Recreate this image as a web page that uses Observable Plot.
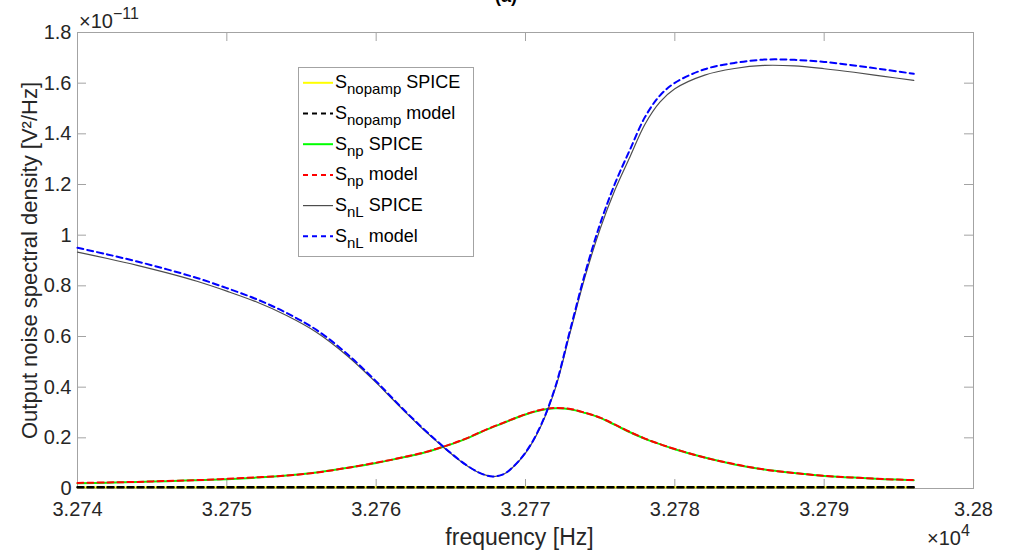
<!DOCTYPE html>
<html><head><meta charset="utf-8">
<script src="https://cdn.jsdelivr.net/npm/d3@7"></script>
<script src="https://cdn.jsdelivr.net/npm/@observablehq/plot@0.6"></script>
<style>
html,body{margin:0;padding:0;background:#fff;overflow:hidden;}
#wrap{position:relative;width:1010px;height:555px;font-family:"Liberation Sans",Arial,sans-serif;}
#wrap svg.overlay{position:absolute;left:0;top:0;pointer-events:none;}
</style></head><body><div id="wrap"></div>
<script>
// ---- data (frequency in Hz, spectral densities in units of 1e-11 V^2/Hz) ----
const freq = [32740,32742,32744,32746,32748,32750,32752,32754,32756,32758,32760,32761,32762,32763,32764,32765,32766,32767,32767.8,32768.5,32769,32770,32771,32772,32773,32774,32775,32776,32777,32778,32779,32780,32782,32784,32786,32788,32790,32792,32794,32796];
const nopampSpice = [0.005,0.005,0.005,0.005,0.005,0.005,0.005,0.005,0.005,0.005,0.005,0.005,0.005,0.005,0.005,0.005,0.005,0.005,0.005,0.005,0.005,0.005,0.005,0.005,0.005,0.005,0.005,0.005,0.005,0.005,0.005,0.005,0.005,0.005,0.005,0.005,0.005,0.005,0.005,0.005];
const nopampModel = [0.005,0.005,0.005,0.005,0.005,0.005,0.005,0.005,0.005,0.005,0.005,0.005,0.005,0.005,0.005,0.005,0.005,0.005,0.005,0.005,0.005,0.005,0.005,0.005,0.005,0.005,0.005,0.005,0.005,0.005,0.005,0.005,0.005,0.005,0.005,0.005,0.005,0.005,0.005,0.005];
const npSpice = [0.021,0.023,0.026,0.029,0.033,0.037,0.043,0.051,0.063,0.081,0.101,0.113,0.125,0.138,0.155,0.174,0.196,0.222,0.242,0.258,0.270,0.292,0.309,0.317,0.313,0.298,0.279,0.251,0.222,0.196,0.175,0.155,0.122,0.095,0.075,0.061,0.049,0.043,0.037,0.033];
const npModel = [0.022,0.024,0.026,0.030,0.033,0.038,0.044,0.051,0.063,0.081,0.102,0.113,0.126,0.139,0.156,0.175,0.197,0.223,0.243,0.259,0.271,0.293,0.310,0.318,0.314,0.299,0.280,0.252,0.223,0.197,0.175,0.156,0.122,0.096,0.075,0.061,0.050,0.043,0.037,0.033];
const nLSpice = [0.933,0.908,0.881,0.851,0.818,0.779,0.736,0.683,0.617,0.527,0.418,0.358,0.299,0.242,0.189,0.138,0.093,0.060,0.047,0.055,0.075,0.140,0.242,0.395,0.618,0.838,1.025,1.180,1.310,1.438,1.525,1.578,1.632,1.658,1.670,1.668,1.657,1.643,1.627,1.611];
const nLModel = [0.950,0.924,0.896,0.865,0.831,0.791,0.747,0.693,0.626,0.534,0.423,0.362,0.302,0.245,0.191,0.140,0.094,0.060,0.047,0.056,0.076,0.142,0.246,0.402,0.628,0.852,1.045,1.205,1.338,1.466,1.551,1.601,1.655,1.680,1.693,1.692,1.684,1.670,1.654,1.637];

const xTicks = [32740,32750,32760,32770,32780,32790,32800];
const yTicks = [0,0.2,0.4,0.6,0.8,1.0,1.2,1.4,1.6,1.8];

const seriesValues = [nopampSpice,nopampModel,npSpice,npModel,nLSpice,nLModel];
// styles (kept separate from data)
const styles = [
  {stroke:"#ffff00", w:2,   dash:null},
  {stroke:"#000000", w:2.5, dash:"6,4"},
  {stroke:"#00ff00", w:2,   dash:null},
  {stroke:"#ff0000", w:2,   dash:"6,4"},
  {stroke:"#4d4d4d", w:1.2, dash:null},
  {stroke:"#0000ff", w:2,   dash:"6,4"}
];

const rows = seriesValues.map(vals => freq.map((f,i)=>({f, v: vals[i]})));

const W=1010,H=555, mL=77, mR=37, mT=32, mB=67;
const frameW = W-mL-mR, frameH = H-mT-mB, tk = 9;
const axisColor = "#a3a3a3";

const lineMarks = rows.map((r,i)=>Plot.line(r,{x:"f", y:"v", stroke:styles[i].stroke, strokeWidth:styles[i].w, strokeDasharray:styles[i].dash||undefined, curve:"catmull-rom"}));

const chart = Plot.plot({
  width:W, height:H, marginLeft:mL, marginRight:mR, marginTop:mT, marginBottom:mB,
  style:{fontFamily:"'Liberation Sans', Arial, sans-serif", fontSize:"20px", color:"#262626", background:"white", overflow:"visible"},
  x:{domain:[32740,32800]},
  y:{domain:[0,1.8]},
  marks:[
    Plot.frame({stroke:axisColor}),
    Plot.tickX(xTicks,{x:d=>d, stroke:axisColor, insetTop:frameH-tk}),
    Plot.tickX(xTicks,{x:d=>d, stroke:axisColor, insetBottom:frameH-tk}),
    Plot.tickY(yTicks,{y:d=>d, stroke:axisColor, insetRight:frameW-tk}),
    Plot.tickY(yTicks,{y:d=>d, stroke:axisColor, insetLeft:frameW-tk}),
    Plot.axisX(xTicks,{tickSize:0, tickPadding:13, fontSize:20, fill:"#262626", label:null, tickFormat:d=>String(+(d/1e4).toFixed(3))}),
    Plot.axisY(yTicks,{tickSize:0, tickPadding:6, fontSize:20, fill:"#262626", label:null, tickFormat:d=>String(+d.toFixed(1))}),
    ...lineMarks,
    Plot.text(["frequency [Hz]"],{frameAnchor:"bottom", dx:-6, dy:49, fontSize:23, fill:"#262626", textAnchor:"middle", lineAnchor:"middle"}),
    Plot.text(["Output noise spectral density [V²/Hz]"],{frameAnchor:"left", dx:-48, rotate:-90, fontSize:22, fill:"#262626", textAnchor:"middle", lineAnchor:"middle"})
  ]
});
const wrap = document.getElementById("wrap");
wrap.appendChild(chart);

// overlay: title, exponent labels, legend
const ns="http://www.w3.org/2000/svg";
const ov = document.createElementNS(ns,"svg");
ov.setAttribute("class","overlay"); ov.setAttribute("width",W); ov.setAttribute("height",H);
ov.setAttribute("font-family","'Liberation Sans', Arial, sans-serif");
ov.innerHTML = `
<text x="506" y="2" text-anchor="middle" font-size="18" font-weight="bold" fill="#000">(a)</text>
<text x="79" y="28" font-size="20" fill="#262626">×10<tspan dy="-9" font-size="16">−11</tspan></text>
<text x="927" y="545" font-size="20" fill="#262626">×10<tspan dy="-9" font-size="16">4</tspan></text>
<rect x="298.5" y="67.5" width="175" height="189" fill="white" stroke="#a3a3a3" stroke-width="1"/>
`;
const legendSubs = ["nopamp","nopamp","np","np","nL","nL"];
const legendTail = ["SPICE","model","SPICE","model","SPICE","model"];
let lg = "";
for (let i=0;i<6;i++){
  const base = 88.3 + 30.7*i, ly = base - 5.5, s = styles[i];
  lg += `<line x1="303" x2="333" y1="${ly}" y2="${ly}" stroke="${s.stroke}" stroke-width="${Math.min(s.w,2)}" ${s.dash?`stroke-dasharray="5,4"`:""}/>`;
  lg += `<text x="335" y="${base}" font-size="18" fill="#000">S<tspan dy="6" font-size="15">${legendSubs[i]}</tspan><tspan dy="-6"> ${legendTail[i]}</tspan></text>`;
}
ov.innerHTML += lg;
wrap.appendChild(ov);
</script></body></html>
